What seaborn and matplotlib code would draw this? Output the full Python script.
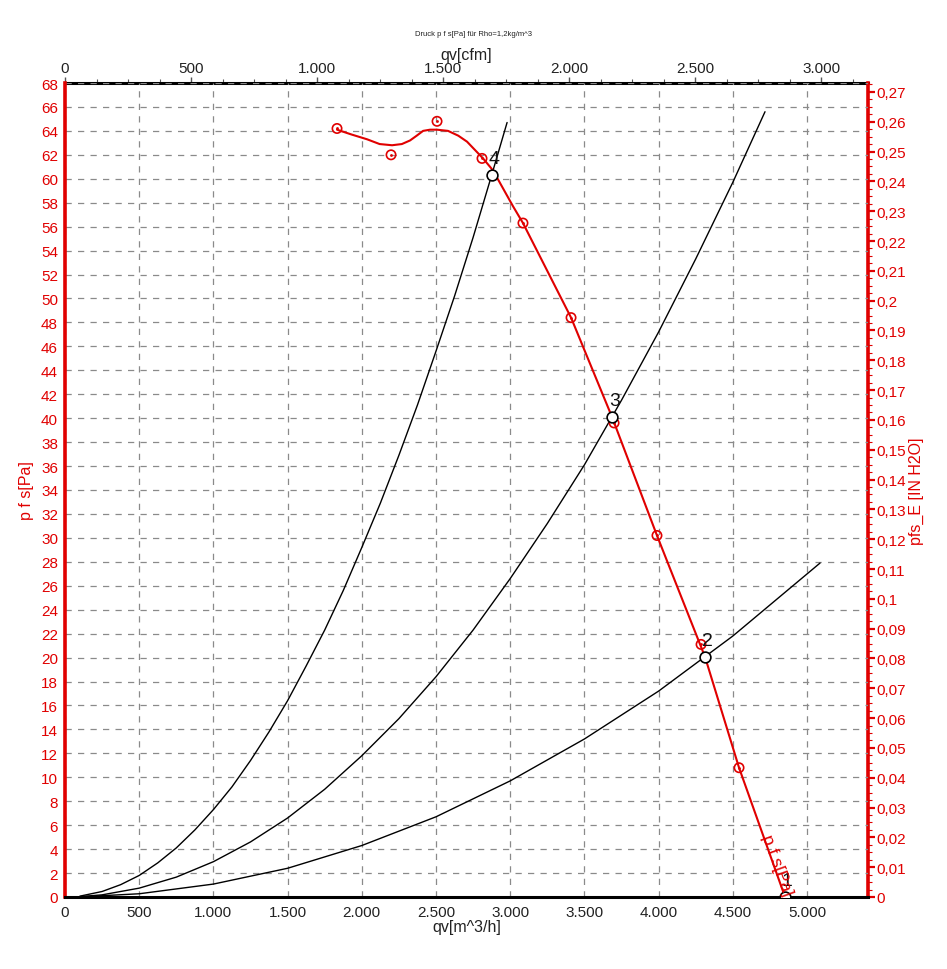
import matplotlib
matplotlib.use("Agg")
import matplotlib.pyplot as plt
import matplotlib.ticker as mt
import seaborn as sns

sns.set_style("white")
plt.rcParams["font.family"] = ["Liberation Sans", "DejaVu Sans"]

# fan curve, measured points (red circles)
qv_meas = [1833, 2197, 2507, 2810, 3086, 3410, 3700, 3989, 4286, 4542]
pfs_meas = [64.2, 62.0, 64.8, 61.7, 56.3, 48.4, 39.6, 30.2, 21.1, 10.8]

# fan curve, fitted line
qv_fit = [1833, 1930, 2035, 2120, 2204, 2270, 2325, 2370, 2413, 2460, 2507, 2581,
          2650, 2709, 2817, 2884, 3019, 3086, 3410, 3686, 3989, 4313, 4542, 4852]
pfs_fit = [64.1, 63.7, 63.3, 62.9, 62.8, 62.9, 63.2, 63.6, 64.0, 64.1, 64.1, 64.0,
           63.6, 63.1, 61.7, 60.7, 57.7, 56.3, 48.4, 40.1, 30.2, 20.05, 10.8, 0.0]

# system curves
qv_sys1 = [100, 250, 375, 500, 625, 750, 875, 1000, 1125, 1250, 1375, 1500, 1625,
           1750, 1875, 2000, 2125, 2250, 2375, 2500, 2625, 2750, 2875, 2979]
p_sys1 = [0.07, 0.46, 1.03, 1.8, 2.85, 4.1, 5.6, 7.3, 9.2, 11.4, 13.8, 16.4, 19.3,
          22.3, 25.6, 29.2, 32.9, 36.9, 41.1, 45.6, 50.2, 55.1, 60.3, 64.7]
qv_sys2 = [100, 250, 500, 750, 1000, 1250, 1500, 1750, 2000, 2250, 2500, 2750,
           3000, 3250, 3500, 3750, 4000, 4250, 4500, 4717]
p_sys2 = [0.03, 0.18, 0.74, 1.66, 2.95, 4.6, 6.6, 9.0, 11.8, 14.9, 18.4, 22.3,
          26.6, 31.2, 36.1, 41.5, 47.2, 53.3, 59.7, 65.6]
qv_sys3 = [100, 500, 1000, 1500, 2000, 2500, 3000, 3500, 4000, 4500, 5088]
p_sys3 = [0.01, 0.27, 1.08, 2.4, 4.3, 6.7, 9.7, 13.2, 17.2, 21.8, 27.9]

# operating points
op_labels = ["1", "2", "3", "4"]
qv_op = [4852, 4313, 3686, 2877]
p_op = [0.0, 20.05, 40.1, 60.3]

M3H_PER_CFM = 1.699
PA_PER_INH2O = 249.089
RED = "#e00000"


def de_int(v, pos=None):
    return f"{v:,.0f}".replace(",", ".")


def de_dec(v, pos=None):
    if abs(v) < 1e-9:
        return "0"
    s = f"{v:.2f}".rstrip("0").rstrip(".")
    return s.replace(".", ",")


fig = plt.figure(figsize=(9.47, 9.70), dpi=100)
ax = fig.add_axes([65 / 947, 1 - 898 / 970, (868 - 65) / 947, (898 - 84) / 970])

for xs, ys in [(qv_sys1, p_sys1), (qv_sys2, p_sys2), (qv_sys3, p_sys3)]:
    sns.lineplot(x=xs, y=ys, ax=ax, color="black", lw=1.0, sort=False,
                 estimator=None, zorder=3)

sns.lineplot(x=qv_fit, y=pfs_fit, ax=ax, color=RED, lw=1.5, sort=False,
             estimator=None, zorder=4)
sns.scatterplot(x=qv_meas, y=pfs_meas, ax=ax, s=45, facecolor="none",
                edgecolor=RED, linewidth=1.2, zorder=5)
sns.scatterplot(x=qv_meas, y=pfs_meas, ax=ax, s=4, color=RED, linewidth=0, zorder=5)
sns.scatterplot(x=qv_op, y=p_op, ax=ax, s=60, facecolor="white",
                edgecolor="black", linewidth=1.2, zorder=6)
for lab, x, y in zip(op_labels, qv_op, p_op):
    ax.text(x + 15, y + 0.7, lab, fontsize=14, ha="center", va="bottom",
            color="#111111", zorder=7)

ax.text(4800, 2.7, "p f s[Pa]", color=RED, fontsize=12.5, rotation=-70,
        ha="center", va="center", rotation_mode="anchor", zorder=7)

ax.set_xlim(0, 5411)
ax.set_ylim(0, 68)
ax.xaxis.set_major_locator(mt.MultipleLocator(500))
ax.xaxis.set_minor_locator(mt.MultipleLocator(250))
ax.yaxis.set_major_locator(mt.MultipleLocator(2))
ax.yaxis.set_minor_locator(mt.MultipleLocator(0.4))
ax.xaxis.set_major_formatter(mt.FuncFormatter(de_int))
ax.grid(True, which="major", color="#8a8a8a", lw=0.9, ls=(0, (5, 5)))
ax.set_axisbelow(True)

for side in ["top", "right"]:
    ax.spines[side].set_visible(False)
ax.spines["bottom"].set_color("black")
ax.spines["bottom"].set_linewidth(2.2)
ax.spines["left"].set_color(RED)
ax.spines["left"].set_linewidth(2.6)

ax.tick_params(axis="x", which="major", direction="out", length=4, width=1,
               colors="#555555", labelsize=11, pad=2, labelcolor="#222222")
ax.tick_params(axis="x", which="minor", direction="out", length=3, width=0.8, colors="#555555")
ax.tick_params(axis="y", which="major", direction="out", length=4, width=1.6,
               colors=RED, labelsize=11, pad=1)
ax.tick_params(axis="y", which="minor", direction="in", length=3, width=0.8, colors=RED)

ax.set_xlabel("qv[m^3/h]", fontsize=11.5, labelpad=0, color="#222222")
ax.set_ylabel("p f s[Pa]", fontsize=11.5, color=RED, labelpad=5)

top = ax.secondary_xaxis("top", functions=(lambda v: v / M3H_PER_CFM,
                                            lambda v: v * M3H_PER_CFM))
top.xaxis.set_major_locator(mt.MultipleLocator(500))
top.xaxis.set_minor_locator(mt.MultipleLocator(125))
top.xaxis.set_major_formatter(mt.FuncFormatter(de_int))
top.spines["top"].set_color("black")
top.spines["top"].set_linewidth(2.2)
top.tick_params(axis="x", which="major", direction="out", length=4, width=1,
                colors="#555555", labelsize=11, pad=2, labelcolor="#222222")
top.tick_params(axis="x", which="minor", direction="out", length=3, width=0.8, colors="#555555")
top.set_xlabel("qv[cfm]", fontsize=11.5, labelpad=1, color="#222222")

right = ax.secondary_yaxis("right", functions=(lambda v: v / PA_PER_INH2O,
                                                lambda v: v * PA_PER_INH2O))
right.yaxis.set_major_locator(mt.MultipleLocator(0.01))
right.yaxis.set_minor_locator(mt.MultipleLocator(0.0025))
right.yaxis.set_major_formatter(mt.FuncFormatter(de_dec))
right.spines["right"].set_color(RED)
right.spines["right"].set_linewidth(2.6)
right.tick_params(axis="y", which="major", direction="out", length=5, width=1.6,
                  colors=RED, labelsize=11, pad=1)
right.tick_params(axis="y", which="minor", direction="out", length=3, width=0.8, colors=RED)
right.set_ylabel("pfs_E [IN H2O]", fontsize=11.5, color=RED, labelpad=2)

fig.text(473 / 947, 1 - 35 / 970, "Druck p f s[Pa] für Rho=1,2kg/m^3",
         fontsize=5.5, ha="center", va="center", color="#222222")

fig.savefig("out.png", dpi=100, facecolor="white")
